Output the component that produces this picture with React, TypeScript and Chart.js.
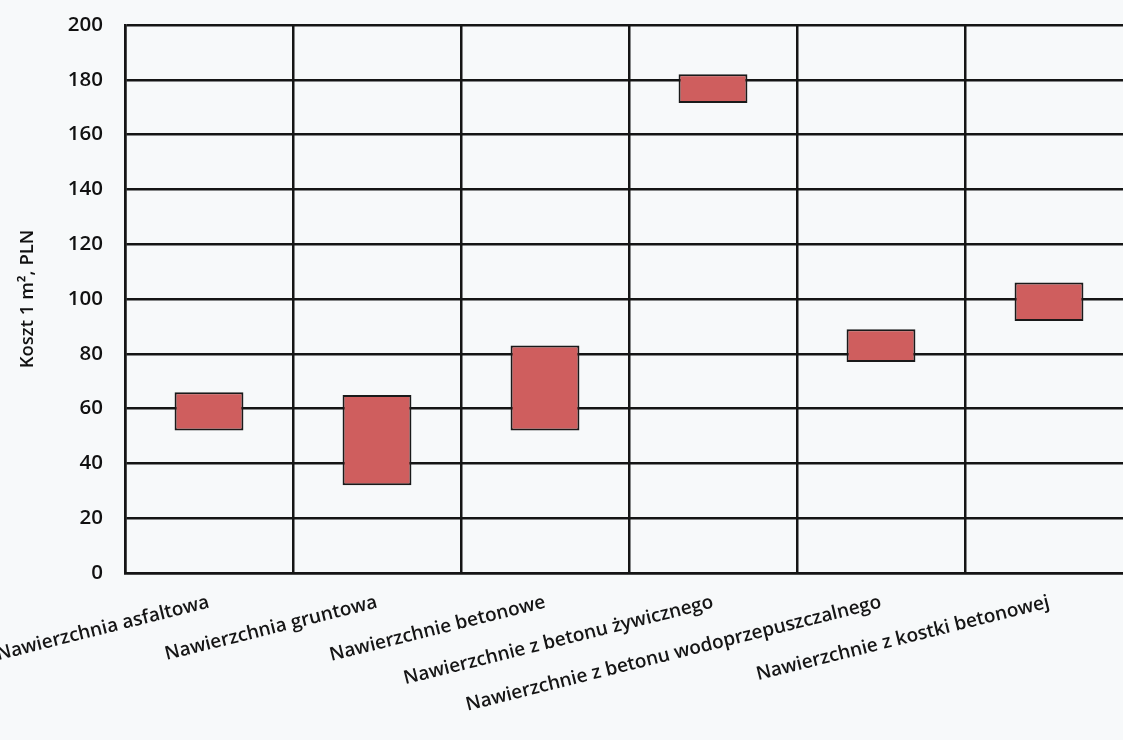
import React, { useEffect, useRef } from "react";
import { Chart, registerables } from "chart.js";

Chart.register(...registerables);

const categories = [
  "Nawierzchnia asfaltowa",
  "Nawierzchnia gruntowa",
  "Nawierzchnie betonowe",
  "Nawierzchnie z betonu żywicznego",
  "Nawierzchnie z betonu wodoprzepuszczalnego",
  "Nawierzchnie z kostki betonowej",
];
const minCost = [52, 32, 52, 171.5, 77, 92];
const maxCost = [66, 65, 83, 182, 89, 106];
const yMin = 0;
const yMax = 200;
const yStep = 20;
const yTitle = "Koszt 1 m², PLN";

const CANVAS_W = 1135;
const CANVAS_H = 740;

export default function App() {
  const ref = useRef<HTMLCanvasElement | null>(null);

  useEffect(() => {
    if (!ref.current) return;
    const chart = new Chart(ref.current, {
      type: "bar",
      data: {
        labels: categories,
        datasets: [
          {
            label: "Koszt",
            data: minCost.map((lo, i) => [lo, maxCost[i]]) as any,
            backgroundColor: "#cf5e5e",
            borderColor: "#1a1a1a",
            borderWidth: 2,
            borderSkipped: false,
            barPercentage: 0.41,
            categoryPercentage: 1,
          },
        ],
      },
      options: {
        responsive: false,
        animation: false,
        layout: { padding: { top: 25, right: 2, bottom: 0, left: 0 } },
        plugins: {
          legend: { display: false },
          tooltip: { enabled: false },
        },
        scales: {
          x: {
            grid: { color: "#151515", lineWidth: 2.5, drawTicks: false, offset: true },
            border: { display: true, color: "#151515", width: 2.5 },
            ticks: {
              minRotation: 14,
              maxRotation: 14,
              autoSkip: false,
              padding: 18,
              labelOffset: 0,
              color: "#151515",
              font: { family: "'Open Sans', sans-serif", size: 19, weight: "600" },
            },
            afterFit: (scale: any) => {
              scale.height = 167;
              scale.paddingLeft = 0;
              scale.paddingRight = 0;
            },
          },
          y: {
            min: yMin,
            max: yMax,
            grid: { color: "#151515", lineWidth: 2.5, drawTicks: false },
            border: { display: true, color: "#151515", width: 2.5 },
            ticks: {
              stepSize: yStep,
              padding: 22,
              color: "#111",
              font: { family: "'Open Sans', sans-serif", size: 20.5, weight: "600" },
            },
            title: {
              display: true,
              text: yTitle,
              color: "#111",
              padding: { top: 17, bottom: 0 },
              font: { family: "'Open Sans', sans-serif", size: 18.5, weight: "600" },
            },
            afterFit: (scale: any) => {
              scale.width = 125;
              scale.paddingTop = 0;
              scale.paddingBottom = 0;
            },
          },
        },
      },
    });
    return () => chart.destroy();
  }, []);

  return (
    <div
      style={{
        position: "fixed",
        left: 0,
        top: 0,
        width: 1123,
        height: 740,
        overflow: "hidden",
        background: "#f7f9fa",
      }}
    >
      <canvas ref={ref} width={CANVAS_W} height={CANVAS_H} style={{ display: "block" }} />
    </div>
  );
}
